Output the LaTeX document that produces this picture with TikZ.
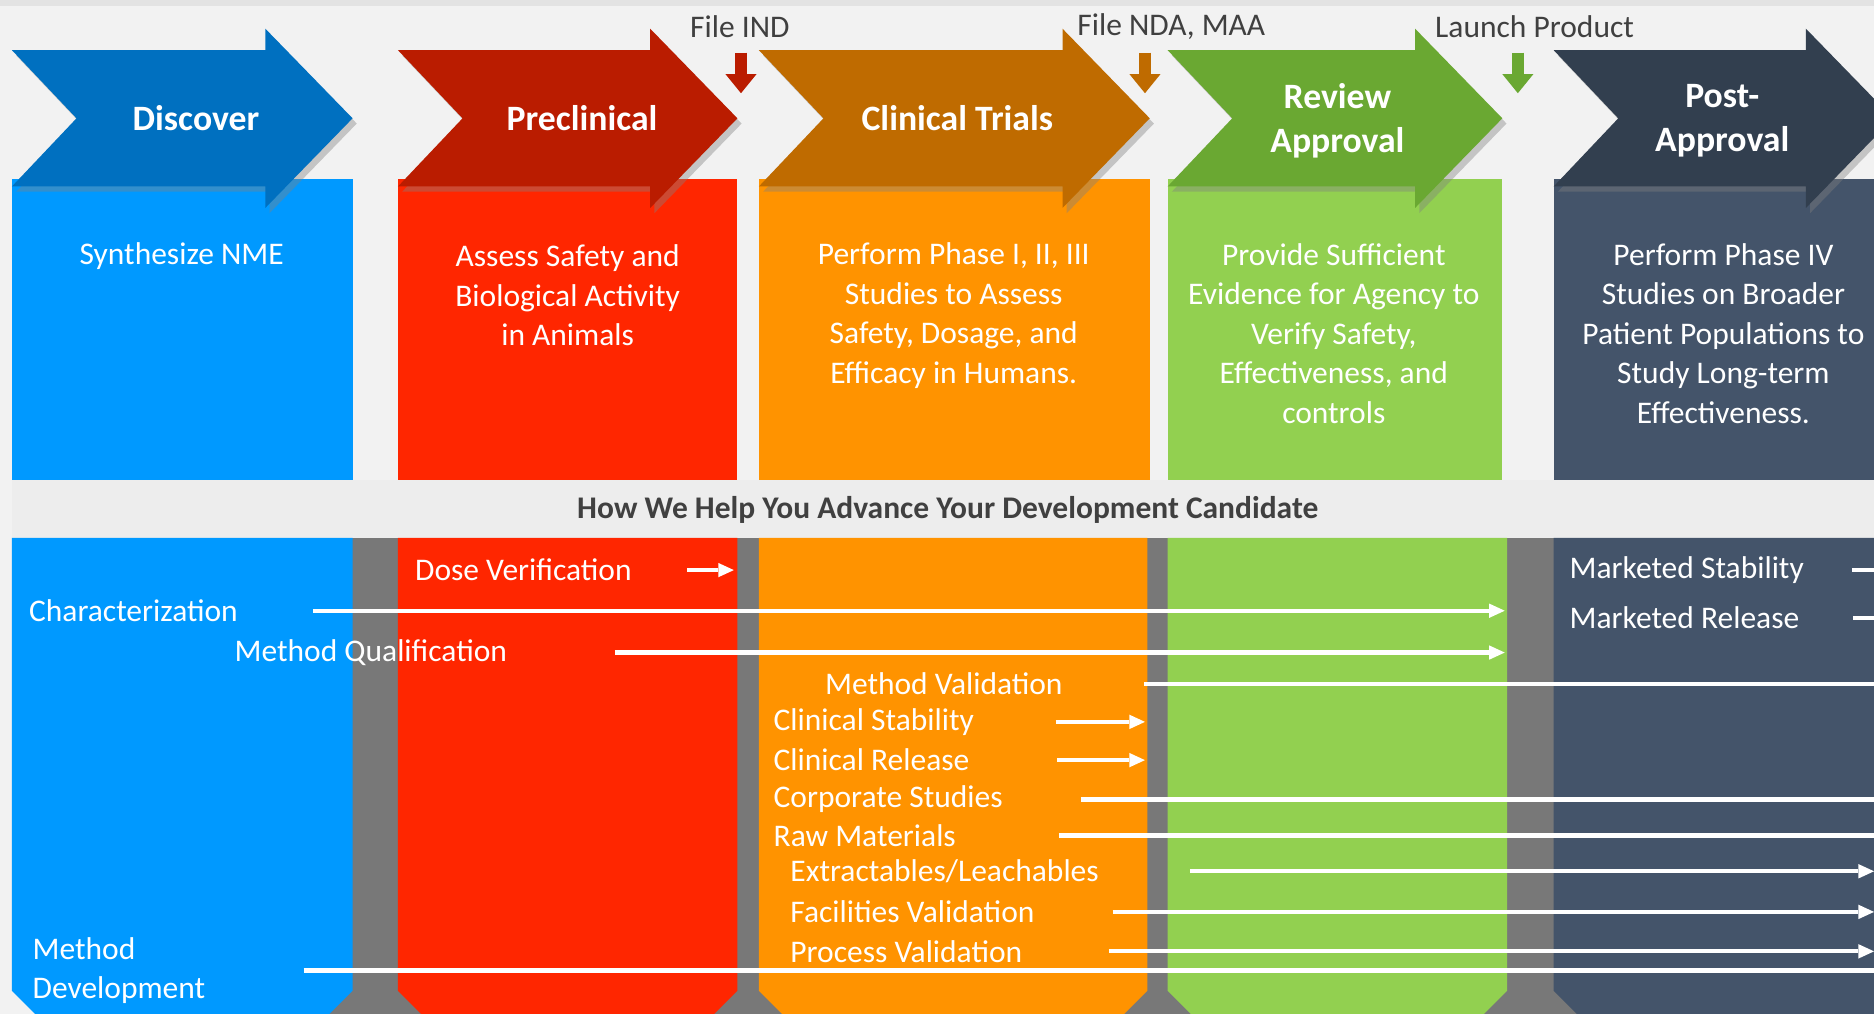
\documentclass[tikz,border=0pt]{standalone}
\usepackage{fontspec}
\setmainfont{Carlito}
\usetikzlibrary{arrows.meta,shadows}

\definecolor{pagegray}{HTML}{F2F2F2}
\definecolor{stripgray}{HTML}{E3E3E3}
\definecolor{bandgray}{HTML}{EDEDED}
\definecolor{gapgray}{HTML}{787878}
\definecolor{labelgray}{HTML}{404040}
\definecolor{discoverdark}{HTML}{0070C0}
\definecolor{discoverlight}{HTML}{0099FF}
\definecolor{precdark}{HTML}{BA1C00}
\definecolor{preclight}{HTML}{FF2600}
\definecolor{clindark}{HTML}{BF6B00}
\definecolor{clinlight}{HTML}{FF9300}
\definecolor{revdark}{HTML}{6AA832}
\definecolor{revlight}{HTML}{92D050}
\definecolor{postdark}{HTML}{323F4F}
\definecolor{postlight}{HTML}{44546A}

% block arrow of a phase: left x, tip x, colour
\newcommand{\phasearrow}[3]{%
  \fill[#3, drop shadow={shadow xshift=2pt,shadow yshift=-2.5pt,opacity=.4}]
    (#1,42) -- ({#2-73},42) -- ({#2-73},24) -- (#2,99) -- ({#2-73},174)
    -- ({#2-73},156) -- (#1,156) -- ({#1+54},99) -- cycle;}

% column under the band, corners cut at the foot: left x, right x, colour
\newcommand{\phasecolumn}[3]{%
  \fill[#3] (#1,450) -- (#2,450) -- (#2,829) -- ({#2-25},854)
    -- ({#1+25},854) -- (#1,829) -- cycle;}

\begin{document}
\begin{tikzpicture}[x=0.02cm,y=-0.02cm,
    phasetitle/.style={text=white,font=\fontsize{17}{21}\selectfont\bfseries,align=center,inner sep=0pt},
    phasetext/.style={text=white,font=\fontsize{15}{18.8}\selectfont,align=center,inner sep=0pt},
    tasklabel/.style={text=white,font=\fontsize{15}{18.5}\selectfont,anchor=west,inner sep=0pt},
    gatelabel/.style={text=labelgray,font=\fontsize{15}{18}\selectfont,inner sep=0pt},
    taskline/.style={white,line width=2pt},
    taskarrow/.style={taskline,-{Triangle[length=0.26cm,width=0.24cm,line width=0pt]}},
    gatearrow/.style={line width=0.2cm,-{Triangle[length=0.32cm,width=0.52cm,line width=0pt]}}]
    \useasboundingbox (0,0) rectangle (1568,848);
    \clip (0,0) rectangle (1568,848);

    % page
    \fill[pagegray] (0,0) rectangle (1568,848);
    \fill[stripgray] (0,0) rectangle (1568,5);

    % upper boxes
    \fill[discoverlight] (10,150) rectangle (295,402);
    \fill[preclight] (333,150) rectangle (617,402);
    \fill[clinlight] (635,150) rectangle (962,402);
    \fill[revlight] (977,150) rectangle (1257,402);
    \fill[postlight] (1300,150) rectangle (1568,402);

    % phase arrows
    \phasearrow{10}{295}{discoverdark}
    \phasearrow{333}{617}{precdark}
    \phasearrow{635}{962}{clindark}
    \phasearrow{977}{1257}{revdark}
    \phasearrow{1300}{1584}{postdark}

    \node[phasetitle] (disc-title) at (164,99) {Discover};
    \node[phasetitle] (prec-title) at (487,99) {Preclinical};
    \node[phasetitle] (clin-title) at (801,99) {Clinical Trials};
    \node[phasetitle] (rev-title) at (1119,101) {Review\\Approval};
    \node[phasetitle] (post-title) at (1441,101) {Post-\\Approval};

    \node[phasetext] (disc-text) at (152,214) {Synthesize NME};
    \node[phasetext] (prec-text) at (475,247) {Assess Safety and\\Biological Activity\\in Animals};
    \node[phasetext] (clin-text) at (798,264) {Perform Phase I, II, III\\Studies to Assess\\Safety, Dosage, and\\Efficacy in Humans.};
    \node[phasetext] (rev-text) at (1116,279) {Provide Sufficient\\Evidence for Agency to\\Verify Safety,\\Effectiveness, and\\controls};
    \node[phasetext] (post-text) at (1442,279) {Perform Phase IV\\Studies on Broader\\Patient Populations to\\Study Long-term\\Effectiveness.};

    % milestones
    \node[gatelabel] (ind) at (619,22) {File IND};
    \node[gatelabel] (nda) at (980,22) {File NDA, MAA};
    \node[gatelabel] (launch) at (1284,22) {Launch Product};
    \coordinate (ind-top) at (620,44);
    \coordinate (ind-tip) at (620,78);
    \coordinate (nda-top) at (958,44);
    \coordinate (nda-tip) at (958,78);
    \coordinate (launch-top) at (1270,44);
    \coordinate (launch-tip) at (1270,78);
    \draw[gatearrow,precdark] (ind-top) -- (ind-tip);
    \draw[gatearrow,clindark] (nda-top) -- (nda-tip);
    \draw[gatearrow,revdark] (launch-top) -- (launch-tip);

    % band
    \fill[bandgray] (10,402) rectangle (1568,450);
    \node[font=\fontsize{15}{18}\selectfont\bfseries,text=labelgray,inner sep=0pt] (help) at (793,427)
        {How We Help You Advance Your Development Candidate};

    % lower columns
    \fill[gapgray] (150,450) rectangle (1568,848);
    \phasecolumn{10}{295}{discoverlight}
    \phasecolumn{333}{617}{preclight}
    \phasecolumn{635}{960}{clinlight}
    \phasecolumn{977}{1261}{revlight}
    \phasecolumn{1300}{1600}{postlight}

    % services
    \node[tasklabel] (dose) at (347,477) {Dose Verification};
    \node[tasklabel] (charz) at (24,511) {Characterization};
    \node[tasklabel] (mqual) at (196,546) {Method Qualification};
    \node[tasklabel] (mval) at (690,572) {Method Validation};
    \node[tasklabel] (cstab) at (647,604) {Clinical Stability};
    \node[tasklabel] (crel) at (647,636) {Clinical Release};
    \node[tasklabel] (corp) at (647,669) {Corporate Studies};
    \node[tasklabel] (raw) at (647,699) {Raw Materials};
    \node[tasklabel] (extr) at (661,729) {Extractables/Leachables};
    \node[tasklabel] (facil) at (661,763) {Facilities Validation};
    \node[tasklabel] (proc) at (661,796) {Process Validation};
    \node[tasklabel,align=left] (mdev) at (27,812) {Method\\Development};
    \node[tasklabel] (mstab) at (1313,477) {Marketed Stability};
    \node[tasklabel] (mrel) at (1313,517) {Marketed Release};

    \coordinate (prec-end) at (614,0);
    \coordinate (clin-end) at (958,0);
    \coordinate (rev-end) at (1259,0);
    \coordinate (page-end) at (1568,0);
    \coordinate (off-page) at (1580,0);

    \draw[taskarrow] ([xshift=0.92cm]dose.east) -- (dose.east -| prec-end);
    \draw[taskarrow] ([xshift=1.26cm]charz.east) -- (charz.east -| rev-end);
    \draw[taskarrow] ([xshift=1.8cm]mqual.east) -- (mqual.east -| rev-end);
    \draw[taskline] ([xshift=1.36cm]mval.east) -- (mval.east -| off-page);
    \draw[taskarrow] ([xshift=1.36cm]cstab.east) -- (cstab.east -| clin-end);
    \draw[taskarrow] ([xshift=1.46cm]crel.east) -- (crel.east -| clin-end);
    \draw[taskline] ([xshift=1.3cm]corp.east) -- (corp.east -| off-page);
    \draw[taskline] ([xshift=1.72cm]raw.east) -- (raw.east -| off-page);
    \draw[taskarrow] ([xshift=1.52cm]extr.east) -- (extr.east -| page-end);
    \draw[taskarrow] ([xshift=1.3cm]facil.east) -- (facil.east -| page-end);
    \draw[taskarrow] ([xshift=1.44cm]proc.east) -- (proc.east -| page-end);
    \draw[taskline] ([xshift=1.64cm]mdev.east) -- (mdev.east -| off-page);
    \draw[taskline] ([xshift=0.8cm]mstab.east) -- (mstab.east -| off-page);
    \draw[taskline] ([xshift=0.9cm]mrel.east) -- (mrel.east -| off-page);
\end{tikzpicture}
\end{document}
